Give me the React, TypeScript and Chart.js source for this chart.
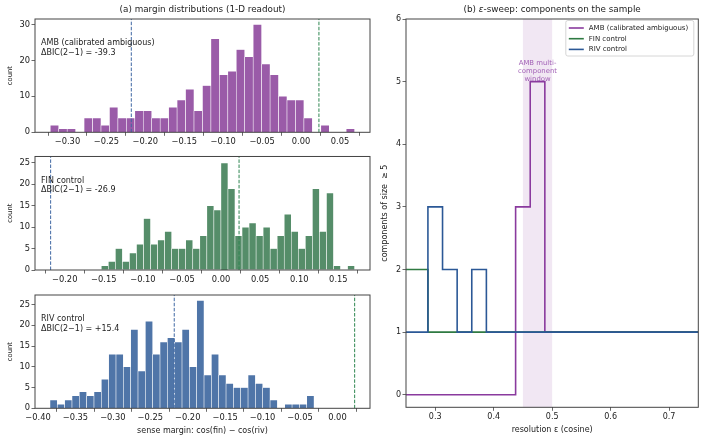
import React, { useEffect, useRef } from 'react';
import { Chart, registerables } from 'chart.js';

Chart.register(...registerables);

const FONT = "'DejaVu Sans', sans-serif";
const INK = '#222222';
const SPINE = '#444444';

// ---------- panel (a): sense-margin histograms (36 bins each) ----------
const ambCounts = [2, 1, 1, 0, 4, 4, 2, 7, 4, 4, 6, 6, 4, 4, 7, 9, 12, 6, 13, 26, 16, 17, 23, 21, 30, 19, 16, 10, 9, 9, 4, 0, 2, 0, 0, 1];
const finCounts = [1, 2, 5, 2, 4, 6, 12, 6, 7, 9, 5, 5, 7, 5, 8, 15, 14, 25, 19, 8, 10, 11, 8, 10, 5, 8, 13, 9, 5, 8, 19, 9, 18, 1, 0, 1];
const rivCounts = [2, 1, 2, 3, 4, 3, 4, 7, 13, 13, 10, 19, 9, 21, 13, 16, 17, 16, 19, 10, 26, 8, 13, 8, 6, 5, 5, 8, 6, 5, 2, 0, 1, 1, 1, 3];

// left edge of the first bin and the bin width of each histogram
const ambBinStart = -0.3221;
const ambBinWidth = 0.01086;
const finBinStart = -0.1532;
const finBinWidth = 0.009;
const rivBinStart = -0.384;
const rivBinWidth = 0.0098;

// class means of the two controls, marked on every histogram
const rivMean = -0.218;
const finMean = 0.023;

const ambName = 'AMB (calibrated ambiguous)';
const finName = 'FIN control';
const rivName = 'RIV control';
const ambBic = '-39.3';
const finBic = '-26.9';
const rivBic = '+15.4';

const ambTicksX = [-0.3, -0.25, -0.2, -0.15, -0.1, -0.05, 0, 0.05];
const finTicksX = [-0.2, -0.15, -0.1, -0.05, 0, 0.05, 0.1, 0.15];
const rivTicksX = [-0.4, -0.35, -0.3, -0.25, -0.2, -0.15, -0.1, -0.05, 0];
const ambTicksY = [0, 10, 20, 30];
const finTicksY = [0, 5, 10, 15, 20, 25];
const rivTicksY = [0, 5, 10, 15, 20, 25];

// ---------- panel (b): epsilon sweep ----------
const epsGrid = [0.25, 0.275, 0.3, 0.325, 0.35, 0.375, 0.4, 0.425, 0.45, 0.475, 0.5, 0.525, 0.55, 0.575, 0.6, 0.625, 0.65, 0.675, 0.7, 0.725, 0.75];
const ambComponents = [0, 0, 0, 0, 0, 0, 0, 0, 3, 5, 1, 1, 1, 1, 1, 1, 1, 1, 1, 1, 1];
const finComponents = [2, 2, 1, 1, 1, 1, 1, 1, 1, 1, 1, 1, 1, 1, 1, 1, 1, 1, 1, 1, 1];
const rivComponents = [1, 1, 3, 2, 1, 2, 1, 1, 1, 1, 1, 1, 1, 1, 1, 1, 1, 1, 1, 1, 1];
const windowLo = 0.45;
const windowHi = 0.5;
const sweepTicksX = [0.3, 0.4, 0.5, 0.6, 0.7];
const sweepTicksY = [0, 1, 2, 3, 4, 5, 6];

const AMB_BAR = '#9a5ba8';
const FIN_BAR = '#558d69';
const RIV_BAR = '#4f75a8';
const RIV_DASH = '#3f67a3';
const FIN_DASH = '#2e8650';
const AMB_LINE = '#8a3a9e';
const FIN_LINE = '#2f7a42';
const RIV_LINE = '#2b5896';

const fmtSigned = (v: number, d: number) => {
  const s = Math.abs(v).toFixed(d);
  return v < -1e-12 ? '\u2212' + s : s;
};

const fixedTicks = (values: number[]) => (scale: any) => {
  scale.ticks = values.map((value) => ({ value }));
};

const font = (size: number, style = 'normal') => ({ family: FONT, size, style, lineHeight: 1.2 });

const axisGrid = { drawOnChartArea: false, drawTicks: true, tickLength: 3.5, color: SPINE, lineWidth: 0.8 };

const framePlugin = {
  id: 'frame',
  afterDatasetsDraw(chart: any) {
    const { ctx, chartArea: a } = chart;
    ctx.save();
    ctx.strokeStyle = SPINE;
    ctx.lineWidth = 1;
    ctx.strokeRect(a.left, a.top, a.right - a.left, a.bottom - a.top);
    ctx.restore();
  },
};

type Run = { text: string; italic?: boolean };
type Note = { runs: Run[]; dx: number; dy: number; size: number; align: 'left' | 'center'; color?: string };

// text drawn relative to the top-left corner of the plot area
function notesPlugin(id: string, notes: Note[]) {
  return {
    id,
    afterDraw(chart: any) {
      const { ctx, chartArea: a } = chart;
      ctx.save();
      ctx.textBaseline = 'middle';
      ctx.textAlign = 'left';
      for (const n of notes) {
        const fonts = n.runs.map((r) => `${r.italic ? 'italic ' : ''}${n.size}px ${FONT}`);
        const widths = n.runs.map((r, i) => {
          ctx.font = fonts[i];
          return ctx.measureText(r.text).width;
        });
        const total = widths.reduce((s, w) => s + w, 0);
        let x = n.align === 'center' ? a.left + (a.right - a.left) / 2 + n.dx - total / 2 : a.left + n.dx;
        const y = a.top + n.dy;
        ctx.fillStyle = n.color || INK;
        n.runs.forEach((r, i) => {
          ctx.font = fonts[i];
          ctx.fillText(r.text, x, y);
          x += widths[i];
        });
      }
      ctx.restore();
    },
  };
}

type HistSpec = {
  counts: number[];
  start: number;
  width: number;
  color: string;
  xMin: number;
  xMax: number;
  yMax: number;
  xTicks: number[];
  yTicks: number[];
  padTop: number;
  xHeight: number;
  xTitle?: string;
  notes: Note[];
};

function histConfig(h: HistSpec): any {
  const bars = h.counts.map((c, i) => ({ x: h.start + (i + 0.5) * h.width, y: c }));
  const marker = (x: number, color: string) => ({
    type: 'line',
    data: [{ x, y: 0 }, { x, y: h.yMax }],
    borderColor: color,
    borderWidth: 1,
    borderDash: [3.5, 1.6],
    pointRadius: 0,
    fill: false,
    order: 0,
  });
  return {
    type: 'bar',
    data: {
      datasets: [
        {
          type: 'bar',
          data: bars,
          backgroundColor: h.color,
          borderColor: 'rgba(255,255,255,0.85)',
          borderWidth: 0.6,
          barPercentage: 1,
          categoryPercentage: 1,
          order: 1,
        },
        marker(rivMean, RIV_DASH),
        marker(finMean, FIN_DASH),
      ],
    },
    options: {
      responsive: false,
      animation: false,
      devicePixelRatio: 1,
      layout: { padding: { top: h.padTop, right: 10, left: 0, bottom: 0 } },
      plugins: { legend: { display: false }, tooltip: { enabled: false } },
      scales: {
        x: {
          type: 'linear',
          min: h.xMin,
          max: h.xMax,
          offset: false,
          afterBuildTicks: fixedTicks(h.xTicks),
          afterFit: (s: any) => {
            s.height = h.xHeight;
          },
          grid: axisGrid,
          border: { display: false },
          ticks: {
            callback: (v: number) => fmtSigned(v, 2),
            font: font(8.3),
            color: INK,
            padding: 1.5,
            maxRotation: 0,
            autoSkip: false,
          },
          title: {
            display: !!h.xTitle,
            text: h.xTitle || '',
            font: font(8),
            color: INK,
            padding: { top: 0, bottom: 5.5 },
          },
        },
        y: {
          type: 'linear',
          min: 0,
          max: h.yMax,
          afterBuildTicks: fixedTicks(h.yTicks),
          afterFit: (s: any) => {
            s.width = 35;
          },
          grid: axisGrid,
          border: { display: false },
          ticks: { callback: (v: number) => String(v), font: font(8.3), color: INK, padding: 1.5 },
          title: { display: true, text: 'count', font: font(6.8), color: INK, padding: { top: 6, bottom: 0 } },
        },
      },
    },
    plugins: [framePlugin, notesPlugin('notes', h.notes)],
  };
}

const labelNotes = (name: string, bic: string): Note[] => [
  { runs: [{ text: name }], dx: 6, dy: 24, size: 8, align: 'left' },
  { runs: [{ text: `\u0394BIC(2\u22121) = ${bic}` }], dx: 6, dy: 33.8, size: 8, align: 'left' },
];

const windowPlugin = {
  id: 'window',
  beforeDatasetsDraw(chart: any) {
    const { ctx, chartArea: a, scales } = chart;
    const x0 = scales.x.getPixelForValue(windowLo);
    const x1 = scales.x.getPixelForValue(windowHi);
    ctx.save();
    ctx.fillStyle = 'rgba(140, 60, 160, 0.12)';
    ctx.fillRect(x0, a.top, x1 - x0, a.bottom - a.top);
    ctx.restore();
  },
  afterDatasetsDraw(chart: any) {
    const { ctx, scales } = chart;
    const cx = scales.x.getPixelForValue((windowLo + windowHi) / 2);
    const cy = scales.y.getPixelForValue(5.17);
    ctx.save();
    ctx.font = `6.9px ${FONT}`;
    ctx.fillStyle = 'rgba(140, 60, 165, 0.8)';
    ctx.textAlign = 'center';
    ctx.textBaseline = 'middle';
    ['AMB multi-', 'component', 'window'].forEach((t, i) => ctx.fillText(t, cx, cy + (i - 1) * 8));
    ctx.restore();
  },
};

const sweepLegendPlugin = {
  id: 'sweepLegend',
  afterDraw(chart: any) {
    const { ctx, chartArea: a } = chart;
    const right = a.right - 4.5;
    const left = right - 128;
    const top = a.top + 1.5;
    const h = 35.5;
    ctx.save();
    ctx.fillStyle = 'rgba(255,255,255,0.85)';
    ctx.strokeStyle = '#cccccc';
    ctx.lineWidth = 0.8;
    ctx.beginPath();
    ctx.roundRect(left, top, right - left, h, 2);
    ctx.fill();
    ctx.stroke();
    ctx.font = `7px ${FONT}`;
    ctx.textBaseline = 'middle';
    ctx.textAlign = 'left';
    chart.data.datasets.forEach((ds: any, i: number) => {
      const y = top + 7.5 + i * 10.7;
      ctx.strokeStyle = ds.borderColor;
      ctx.lineWidth = 1.6;
      ctx.beginPath();
      ctx.moveTo(left + 3, y);
      ctx.lineTo(left + 18, y);
      ctx.stroke();
      ctx.fillStyle = INK;
      ctx.fillText(ds.label, left + 23, y);
    });
    ctx.restore();
  },
};

function sweepConfig(): any {
  const series = (label: string, values: number[], color: string, order: number) => ({
    label,
    data: epsGrid.map((e, i) => ({ x: e, y: values[i] })),
    borderColor: color,
    backgroundColor: color,
    borderWidth: 1.6,
    stepped: 'middle',
    pointRadius: 0,
    fill: false,
    order,
  });
  return {
    type: 'line',
    data: {
      datasets: [
        series(ambName, ambComponents, AMB_LINE, 2),
        series(finName, finComponents, FIN_LINE, 1),
        series(rivName, rivComponents, RIV_LINE, 0),
      ],
    },
    options: {
      responsive: false,
      animation: false,
      devicePixelRatio: 1,
      layout: { padding: { top: 19, right: 6.7, left: 0, bottom: 0 } },
      plugins: { legend: { display: false }, tooltip: { enabled: false } },
      scales: {
        x: {
          type: 'linear',
          min: 0.25,
          max: 0.75,
          afterBuildTicks: fixedTicks(sweepTicksX),
          afterFit: (s: any) => {
            s.height = 33.7;
          },
          grid: axisGrid,
          border: { display: false },
          ticks: { callback: (v: number) => v.toFixed(1), font: font(8), color: INK, padding: 1.5, maxRotation: 0 },
          title: {
            display: true,
            text: 'resolution \u03b5 (cosine)',
            font: font(8),
            color: INK,
            padding: { top: 0, bottom: 6.2 },
          },
        },
        y: {
          type: 'linear',
          min: -0.2,
          max: 6,
          afterBuildTicks: fixedTicks(sweepTicksY),
          afterFit: (s: any) => {
            s.width = 36;
          },
          grid: axisGrid,
          border: { display: false },
          ticks: { callback: (v: number) => String(v), font: font(8), color: INK, padding: 1.5 },
          title: {
            display: true,
            text: 'components of size  \u2265 5',
            font: font(8),
            color: INK,
            padding: { top: 10, bottom: 0 },
          },
        },
      },
    },
    plugins: [
      windowPlugin,
      framePlugin,
      sweepLegendPlugin,
      notesPlugin('title', [
        {
          runs: [{ text: '(b) ' }, { text: '\u03b5', italic: true }, { text: '-sweep: components on the sample' }],
          dx: 0,
          dy: -9,
          size: 8.8,
          align: 'center',
        },
      ]),
    ],
  };
}

function ChartCanvas({ make, left, top, width, height }: { make: () => any; left: number; top: number; width: number; height: number }) {
  const ref = useRef<HTMLCanvasElement>(null);
  useEffect(() => {
    const chart = new Chart(ref.current as HTMLCanvasElement, make());
    return () => chart.destroy();
  }, []);
  return (
    <canvas
      ref={ref}
      width={width}
      height={height}
      style={{ position: 'absolute', left, top, width, height }}
    />
  );
}

export default function App() {
  return (
    <div style={{ position: 'fixed', left: 0, top: 0, width: 705, height: 441, background: '#ffffff', overflow: 'hidden' }}>
      <ChartCanvas
        left={0}
        top={0}
        width={380}
        height={150}
        make={() =>
          histConfig({
            counts: ambCounts,
            start: ambBinStart,
            width: ambBinWidth,
            color: AMB_BAR,
            xMin: -0.3417,
            xMax: 0.0886,
            yMax: 31.5,
            xTicks: ambTicksX,
            yTicks: ambTicksY,
            padTop: 19,
            xHeight: 17.7,
            notes: [
              { runs: [{ text: '(a) margin distributions (1-D readout)' }], dx: 0, dy: -9, size: 8.8, align: 'center' },
              ...labelNotes(ambName, ambBic),
            ],
          })
        }
      />
      <ChartCanvas
        left={0}
        top={150}
        width={380}
        height={135}
        make={() =>
          histConfig({
            counts: finCounts,
            start: finBinStart,
            width: finBinWidth,
            color: FIN_BAR,
            xMin: -0.238,
            xMax: 0.1905,
            yMax: 26.5,
            xTicks: finTicksX,
            yTicks: finTicksY,
            padTop: 6,
            xHeight: 15,
            notes: labelNotes(finName, finBic),
          })
        }
      />
      <ChartCanvas
        left={0}
        top={285}
        width={380}
        height={156}
        make={() =>
          histConfig({
            counts: rivCounts,
            start: rivBinStart,
            width: rivBinWidth,
            color: RIV_BAR,
            xMin: -0.404,
            xMax: 0.0435,
            yMax: 27.3,
            xTicks: rivTicksX,
            yTicks: rivTicksY,
            padTop: 10,
            xHeight: 32.7,
            xTitle: 'sense margin: cos(fin) \u2212 cos(riv)',
            notes: labelNotes(rivName, rivBic),
          })
        }
      />
      <ChartCanvas left={370} top={0} width={335} height={441} make={sweepConfig} />
    </div>
  );
}
